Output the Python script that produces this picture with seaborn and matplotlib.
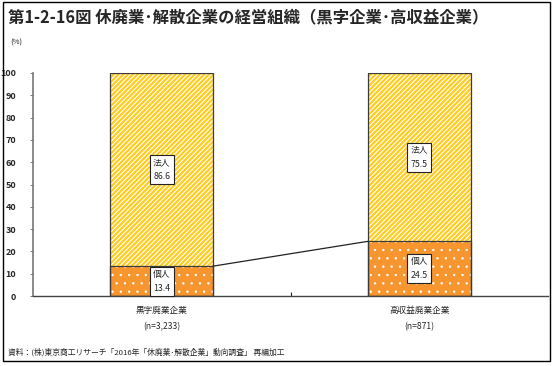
import pandas as pd
import matplotlib.pyplot as plt
from matplotlib.patches import Rectangle
import seaborn as sns

# data
categories = ['黒字廃業企業\n(n=3,233)', '高収益廃業企業\n(n=871)']
kojin = [13.4, 24.5]   # 個人
hojin = [86.6, 75.5]   # 法人
yticks = list(range(0, 101, 10))

title = '第1-2-16図 休廃業･解散企業の経営組織（黒字企業･高収益企業）'
source = '資料：(株)東京商工リサーチ「2016年「休廃業･解散企業」動向調査」 再編加工'

sns.set_style('white')
plt.rcParams['font.family'] = ['Noto Sans CJK JP', 'DejaVu Sans']

df = pd.DataFrame({'cat': categories, 'kojin': kojin, 'hojin': hojin})
df['total'] = df['kojin'] + df['hojin']

yellow = '#FFCC22'
orange = '#F7952F'
edge = '#3a3a3a'

fig = plt.figure(figsize=(5.53, 3.66), dpi=100)
ax = fig.add_axes([33 / 553, 70 / 366, 515 / 553, 223 / 366])

# stacked bars: total (法人 on top) then 個人 at the bottom
plt.rcParams['hatch.linewidth'] = 0.8
sns.barplot(data=df, x='cat', y='total', color=yellow, saturation=1, width=0.4, ax=ax)
n_top = len(ax.patches)
plt.rcParams['hatch.linewidth'] = 0.5
sns.barplot(data=df, x='cat', y='kojin', color=orange, saturation=1, width=0.4, ax=ax)
for i, p in enumerate(ax.patches):
    p.set_edgecolor('white')
    p.set_linewidth(0)
    p.set_hatch('///////' if i < n_top else '..')
bottom_bars = ax.patches[n_top:]

# outlines
sns.barplot(data=df, x='cat', y='total', fill=False, color=edge, linewidth=0.9, width=0.4, ax=ax)
sns.barplot(data=df, x='cat', y='kojin', fill=False, color=edge, linewidth=0.9, width=0.4, ax=ax)

# connector line between the 個人 segments
b0, b1 = bottom_bars[0], bottom_bars[1]
ax.plot([b0.get_x() + b0.get_width(), b1.get_x()], [kojin[0], kojin[1]],
        color='#222222', lw=0.9, zorder=3)

# value boxes
box = dict(boxstyle='square,pad=0.35', fc='white', ec='#222222', lw=0.8)
for i in range(len(categories)):
    ax.text(i, kojin[i] / 2, f'個人\n{kojin[i]}', ha='center', va='center',
            fontsize=6.3, linespacing=1.7, bbox=box, zorder=5)
    ax.text(i, kojin[i] + hojin[i] / 2, f'法人\n{hojin[i]}', ha='center', va='center',
            fontsize=6.3, linespacing=1.7, bbox=box, zorder=5)

ax.set_xlim(-0.5, 1.5)
ax.set_ylim(0, 100)
ax.set_yticks(yticks)
ax.set_yticklabels([str(v) for v in yticks], fontsize=6.5, fontweight='bold')
ax.set_xlabel('')
ax.set_ylabel('')
ax.tick_params(axis='x', length=0, pad=7, labelsize=6.2)
for lbl in ax.get_xticklabels():
    lbl.set_linespacing(2.0)
ax.tick_params(axis='y', left=True, length=2, width=0.6, color='#666666', pad=10)
ax.set_xticks([0.5], minor=True)
ax.tick_params(axis='x', which='minor', bottom=True, direction='in', length=3, width=0.8, color='#222222')
sns.despine(ax=ax, top=True, right=True)
ax.spines['left'].set_color('#777777')
ax.spines['left'].set_linewidth(1.2)
ax.spines['bottom'].set_color('#444444')
ax.spines['bottom'].set_linewidth(1.0)

fig.text(8 / 553, 1 - 17 / 366, title, fontsize=11.8, fontweight='bold', va='center', ha='left')
fig.text(10 / 553, 1 - 43 / 366, '(%)', fontsize=5.5, va='center', ha='left')
fig.text(8 / 553, 1 - 352 / 366, source, fontsize=5.6, va='center', ha='left')

fig.add_artist(Rectangle((3 / 553, 5 / 366), 547 / 553, 359 / 366, transform=fig.transFigure,
                         fill=False, ec='black', lw=1.0))

fig.savefig('out.png', dpi=100)
